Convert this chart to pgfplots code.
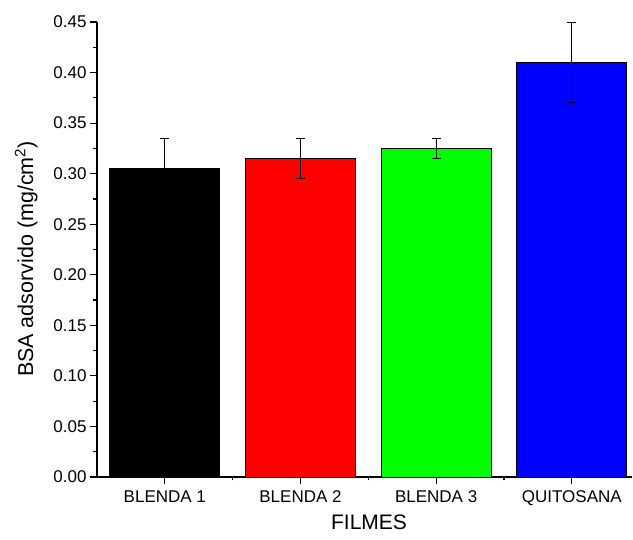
\documentclass[border=0pt]{standalone}
\usepackage{fontspec}
\setmainfont{Liberation Sans}
\usepackage{pgfplots}
\pgfplotsset{compat=1.18}
\begin{document}
\begin{tikzpicture}
\begin{axis}[
  scale only axis,
  width=534.5pt, height=455pt,
  xmin=0.5, xmax=4.44,
  ymin=0, ymax=0.45,
  axis lines*=left,
  axis line style={line width=1.2pt},
  tick align=outside,
  major tick length=7pt,
  minor tick length=3.5pt,
  tick style={line width=1.2pt, black},
  xtick={1,2,3,4},
  xticklabels={BLENDA 1,BLENDA 2,BLENDA 3,QUITOSANA},
  minor xtick={1.5,2.5,3.5},
  ytick={0,0.05,...,0.45},
  minor ytick={0.025,0.075,...,0.425},
  /pgf/number format/assume math mode=true,
  yticklabel style={/pgf/number format/.cd,fixed,fixed zerofill,precision=2},
  xticklabel style={yshift=-3pt},
  ticklabel style={font=\fontsize{17}{20}\selectfont},
  xlabel={FILMES},
  ylabel={BSA adsorvido (mg/cm\textsuperscript{2})},
  xlabel style={font=\fontsize{21}{24}\selectfont, at={(axis description cs:0.509,-0.099)}, anchor=center},
  ylabel style={font=\fontsize{21.5}{24}\selectfont, at={(axis description cs:-0.1197,0.479)}, anchor=base},
  ybar, bar width=0.81, bar shift=0pt,
  clip=false,
]
\addplot[fill=black, draw=black, line width=0.8pt,
  error bars/.cd, y dir=both, y explicit,
  error bar style={line width=0.9pt, black},
  error mark options={rotate=90, mark size=4.5pt, line width=0.9pt, black}]
  coordinates {(1,0.305) +- (0,0.03)};
\addplot[fill=red, draw=black, line width=0.8pt,
  error bars/.cd, y dir=both, y explicit,
  error bar style={line width=0.9pt, black},
  error mark options={rotate=90, mark size=4.5pt, line width=0.9pt, black}]
  coordinates {(2,0.315) +- (0,0.02)};
\addplot[fill={rgb,255:red,0;green,255;blue,0}, draw=black, line width=0.8pt,
  error bars/.cd, y dir=both, y explicit,
  error bar style={line width=0.9pt, black},
  error mark options={rotate=90, mark size=4.5pt, line width=0.9pt, black}]
  coordinates {(3,0.325) +- (0,0.01)};
\addplot[fill=blue, draw=black, line width=0.8pt,
  error bars/.cd, y dir=both, y explicit,
  error bar style={line width=0.9pt, black},
  error mark options={rotate=90, mark size=4.5pt, line width=0.9pt, black}]
  coordinates {(4,0.41) +- (0,0.04)};
\end{axis}
\pgfresetboundingbox
\useasboundingbox (-97pt,-63pt) rectangle (536pt,477pt);
\end{tikzpicture}
\end{document}
